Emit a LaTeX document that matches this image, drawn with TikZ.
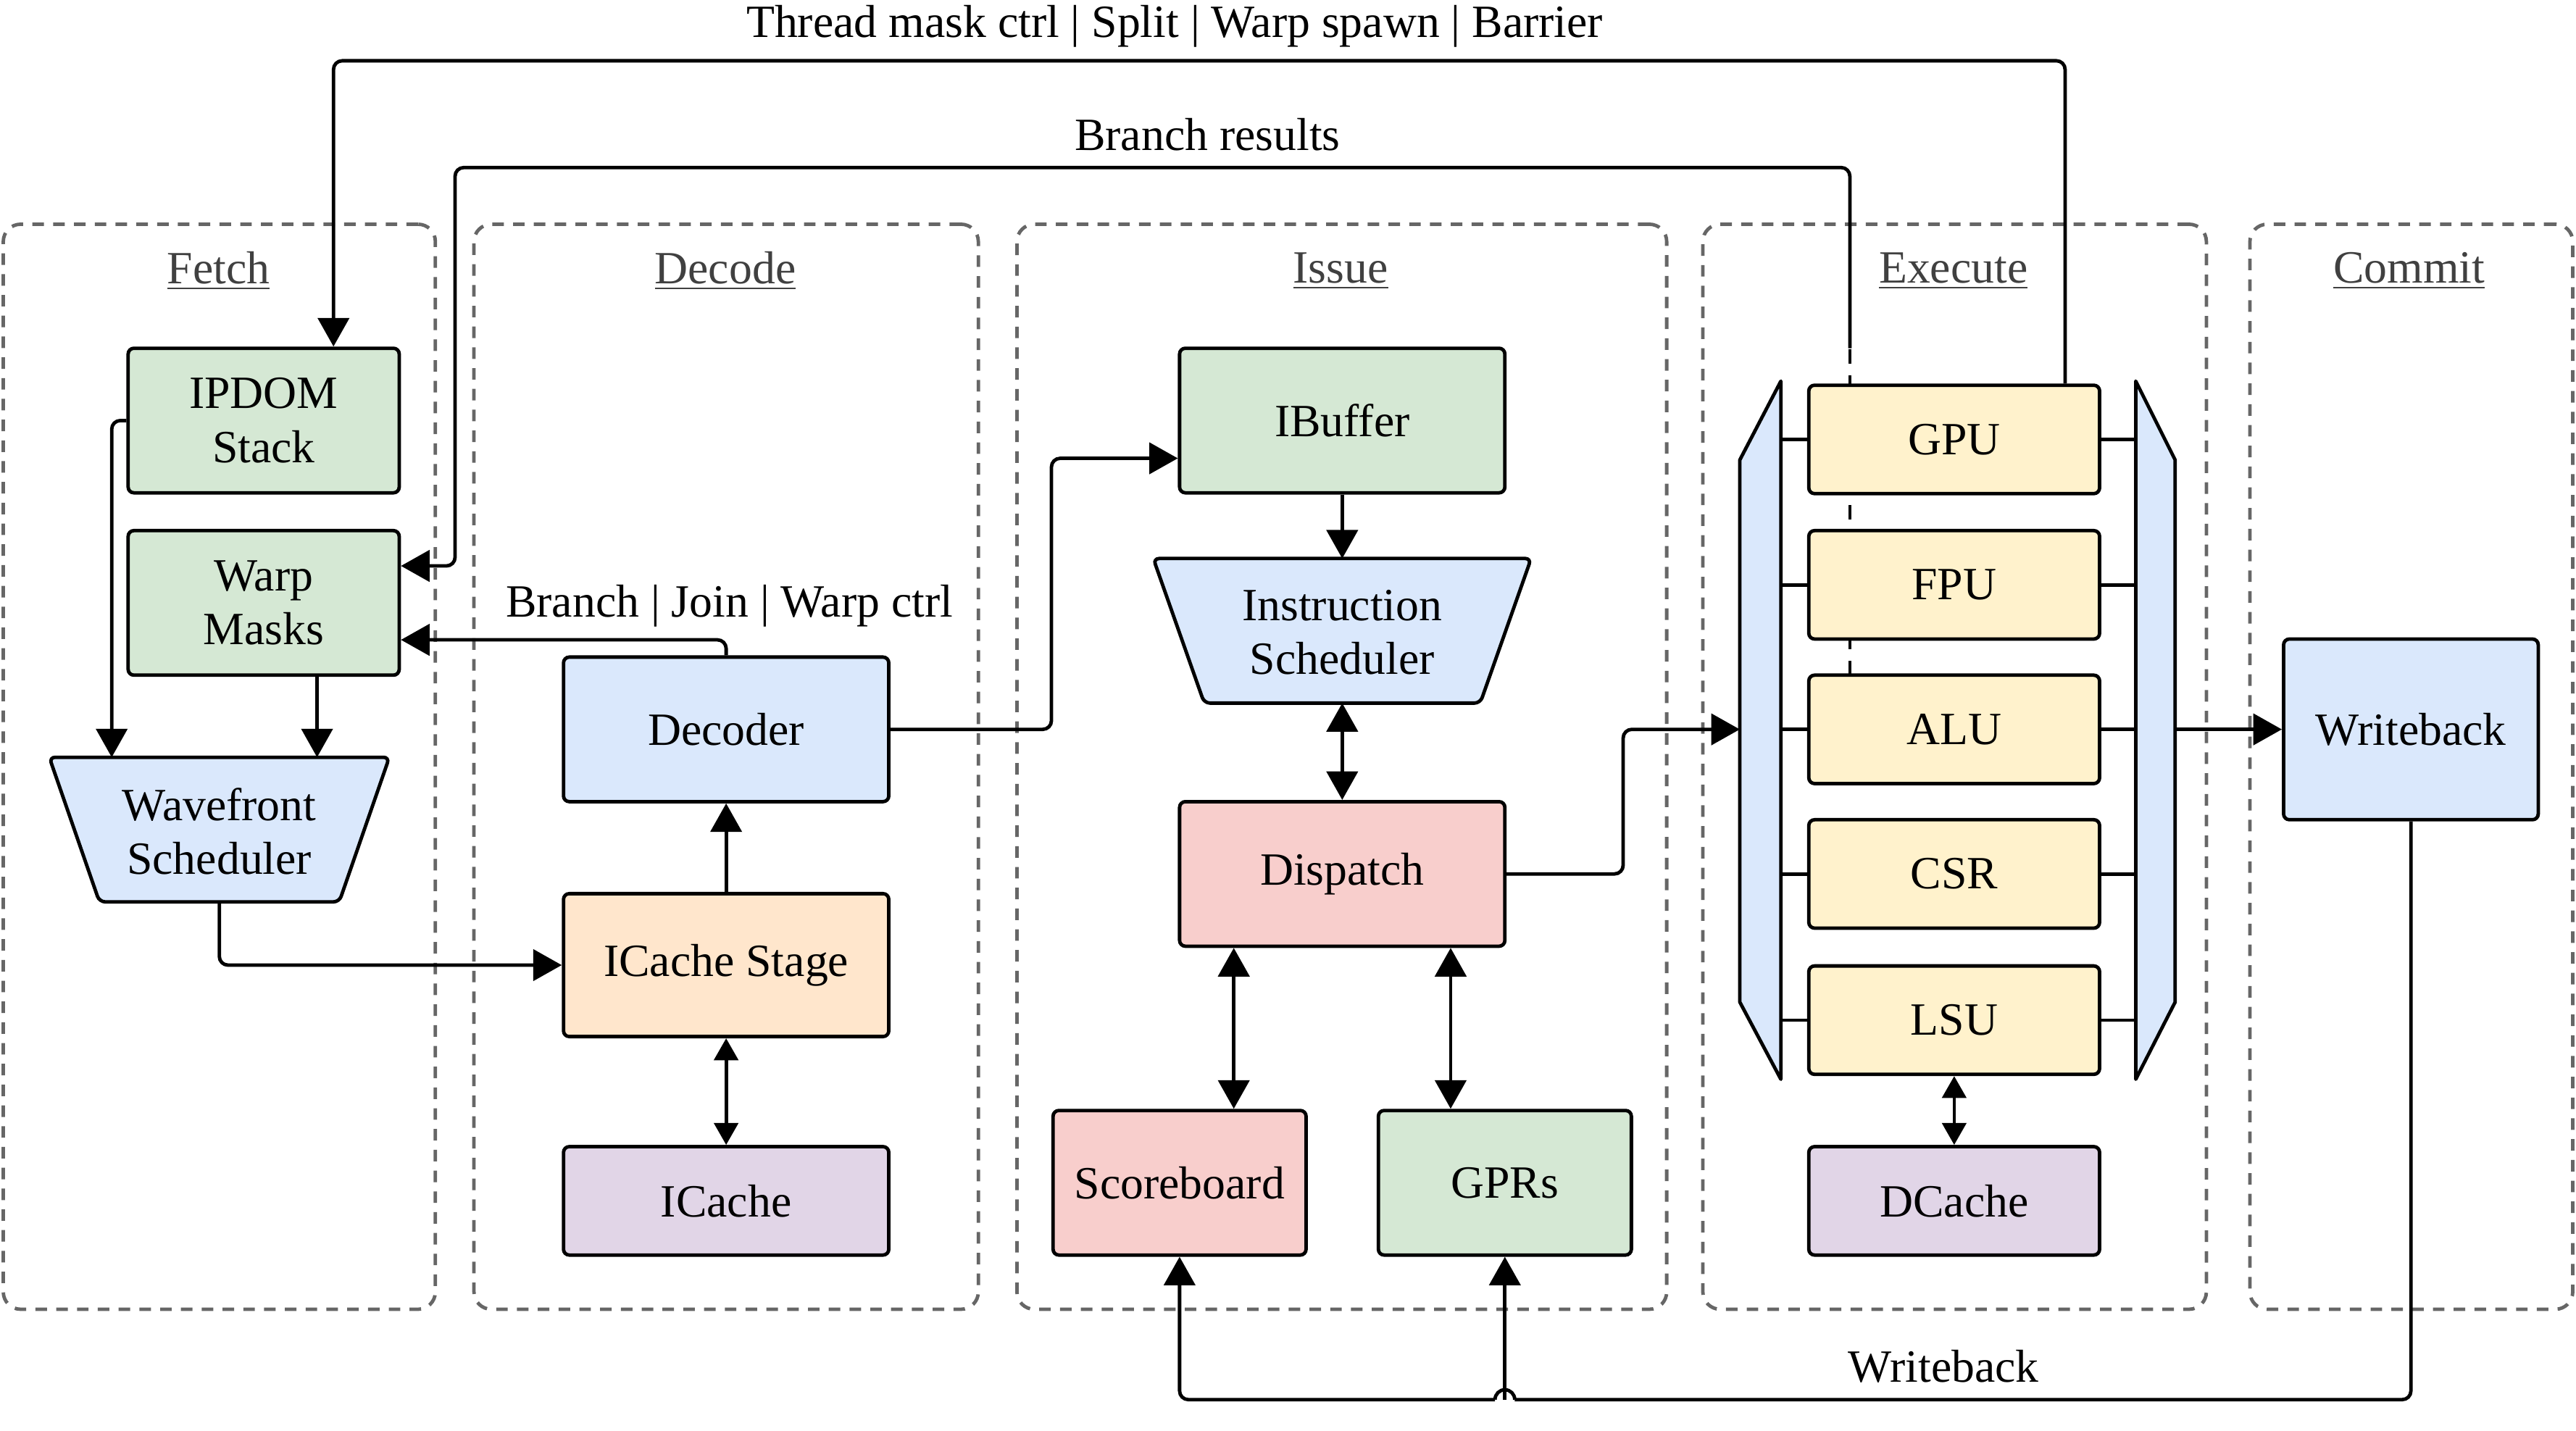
\documentclass[tikz,border=0pt]{standalone}
\usepackage{fontspec}
\setmainfont{Liberation Serif}
\usetikzlibrary{arrows.meta,calc}
\newlength\dpx \setlength\dpx{0.02cm}
\definecolor{cgreen}{HTML}{D5E8D4}
\definecolor{cblue}{HTML}{DAE8FC}
\definecolor{corange}{HTML}{FFE6CC}
\definecolor{cpurple}{HTML}{E1D5E7}
\definecolor{cred}{HTML}{F8CECC}
\definecolor{cyellow}{HTML}{FFF2CC}
\definecolor{ctitle}{HTML}{404040}
\definecolor{cdash}{HTML}{666666}
\begin{document}
\begin{tikzpicture}[x=0.02cm,y=-0.02cm,
  font=\fontsize{16}{18.7}\selectfont,
  box/.style={draw, line width=1.2pt, rounded corners=2pt, inner sep=0pt, align=center},
  stage/.style={draw=cdash, line width=1.2pt, dash pattern=on 4pt off 3.2pt, rounded corners=6pt, inner sep=0pt},
  title/.style={text=ctitle, inner sep=0pt},
  lbl/.style={inner sep=0pt},
  conn/.style={line width=1.2pt, rounded corners=3pt},
  arr/.style={conn, -{Triangle[length=9.9pt,width=10.8pt]}},
  dbl/.style={conn, {Triangle[length=9.9pt,width=10.8pt]}-{Triangle[length=9.9pt,width=10.8pt]}},
  dblsmall/.style={conn, {Triangle[length=7.6pt,width=8.3pt]}-{Triangle[length=7.6pt,width=8.3pt]}},
  muxst/.style={draw, fill=cblue, line width=1.2pt, line join=round},
  link/.style={line width=1.2pt}
]
\useasboundingbox (0,0) rectangle (1568,871);

% stages
\node[stage, minimum width=263\dpx, minimum height=660.5\dpx] (sfetch) at (133.5,466.75) {};
\node[stage, minimum width=307\dpx, minimum height=660.5\dpx] (sdecode) at (442,466.75) {};
\node[stage, minimum width=395.5\dpx, minimum height=660.5\dpx] (sissue) at (816.75,466.75) {};
\node[stage, minimum width=306.5\dpx, minimum height=660.5\dpx] (sexec) at (1189.75,466.75) {};
\node[stage, minimum width=196.5\dpx, minimum height=660.5\dpx] (scommit) at (1467.75,466.75) {};
\node[title] (tfetch) at (133,165) {\underline{Fetch}};
\node[title] (tdecode) at (441.5,165) {\underline{Decode}};
\node[title] (tissue) at (816,165) {\underline{Issue}};
\node[title] (texec) at (1189,165) {\underline{Execute}};
\node[title] (tcommit) at (1466.5,165) {\underline{Commit}};

% dashed part of branch results line (behind units)
\coordinate (brtop) at (1126,212);
\draw[conn, dash pattern=on 5pt off 4pt] (1126,411) -- (brtop);

% muxes
\draw[muxst] (1084,232) -- (1059,280) -- (1059,610) -- (1084,657) -- cycle;
\draw[muxst] (1300,232) -- (1324,280) -- (1324,610) -- (1300,657) -- cycle;
\coordinate (lmuxE) at (1084,0);
\coordinate (rmuxW) at (1300,0);
\coordinate (lmuxin) at (1059,444);
\coordinate (rmuxout) at (1324,444);

% nodes
\node[box, fill=cgreen, minimum width=165\dpx, minimum height=88\dpx] (ipdom) at (160.5,256) {IPDOM\\Stack};
\node[box, fill=cgreen, minimum width=165\dpx, minimum height=88\dpx] (warp) at (160.5,367) {Warp\\Masks};
\draw[box, fill=cblue] (30,461) -- (237,461) -- (206.5,549) -- (60.5,549) -- cycle;
\node[lbl, align=center] (wfs) at (133.5,506) {Wavefront\\Scheduler};
\node[box, fill=cblue, minimum width=198\dpx, minimum height=88\dpx] (decoder) at (442,444) {Decoder};
\node[box, fill=corange, minimum width=198\dpx, minimum height=87\dpx] (icstage) at (442,587.5) {ICache Stage};
\node[box, fill=cpurple, minimum width=198\dpx, minimum height=66\dpx] (icache) at (442,731) {ICache};
\node[box, fill=cgreen, minimum width=198\dpx, minimum height=88\dpx] (ibuffer) at (817,256) {IBuffer};
\draw[box, fill=cblue] (702,340) -- (932,340) -- (901,428) -- (733,428) -- cycle;
\node[lbl, align=center] (isched) at (817,385) {Instruction\\Scheduler};
\node[box, fill=cred, minimum width=198\dpx, minimum height=88\dpx] (dispatch) at (817,532) {Dispatch};
\node[box, fill=cred, minimum width=154\dpx, minimum height=88\dpx] (sb) at (718,720) {Scoreboard};
\node[box, fill=cgreen, minimum width=154\dpx, minimum height=88\dpx] (gprs) at (916,720) {GPRs};
\node[box, fill=cyellow, minimum width=177\dpx, minimum height=66\dpx] (gpu) at (1189.5,267.5) {GPU};
\node[box, fill=cyellow, minimum width=177\dpx, minimum height=66\dpx] (fpu) at (1189.5,356) {FPU};
\node[box, fill=cyellow, minimum width=177\dpx, minimum height=66\dpx] (alu) at (1189.5,444) {ALU};
\node[box, fill=cyellow, minimum width=177\dpx, minimum height=66\dpx] (csr) at (1189.5,532) {CSR};
\node[box, fill=cyellow, minimum width=177\dpx, minimum height=66\dpx] (lsu) at (1189.5,621) {LSU};
\node[box, fill=cpurple, minimum width=177\dpx, minimum height=66\dpx] (dcache) at (1189.5,731) {DCache};
\node[box, fill=cblue, minimum width=155\dpx, minimum height=110\dpx] (wb) at (1467.5,444) {Writeback};

% mux links
\foreach \u in {gpu,fpu,alu,csr,lsu}{
  \draw[link] (\u.west -| lmuxE) -- (\u.west);
  \draw[link] (\u.east) -- (\u.east -| rmuxW);
}

% connectors
\coordinate (tm) at (1257,37);
\draw[arr] (gpu.north -| tm) -- (tm) -| ([xshift=42.5\dpx]ipdom.north);
\node[lbl] (ltm) at (715,16) {Thread mask ctrl | Split | Warp spawn | Barrier};

\coordinate (brc) at (277,102);
\draw[arr] (brtop) |- (brc) |- ([yshift=22.5\dpx]warp.east);
\node[lbl] (lbr) at (735,82) {Branch results};

\draw[arr] (decoder.north) |- ([yshift=-22.5\dpx]warp.east);
\node[lbl] (lbj) at (444,369) {Branch | Join | Warp ctrl};

\coordinate (wfsin1) at (68,461);
\draw[arr] (ipdom.west) -| (wfsin1);
\coordinate (wfsin2) at (193,461);
\draw[arr] (warp.south -| wfsin2) -- (wfsin2);
\coordinate (wfsout) at (133.5,549);
\draw[arr] (wfsout) |- (icstage.west);
\draw[arr] (icstage.north) -- (decoder.south);
\draw[dblsmall] (icstage.south) -- (icache.north);

\coordinate (dib) at (640,444);
\draw[arr] (decoder.east) -- (dib) |- ([yshift=-23\dpx]ibuffer.west);
\coordinate (ischedtop) at (817,340);
\coordinate (ischedbot) at (817,428);
\draw[arr] (ibuffer.south) -- (ischedtop);
\draw[dbl] (ischedbot) -- (dispatch.north);
\draw[dbl] ([xshift=-66\dpx]dispatch.south) -- ([xshift=-66\dpx]dispatch.south |- sb.north);
\draw[dbl] ([xshift=66\dpx]dispatch.south) -- ([xshift=66\dpx]dispatch.south |- gprs.north);

\coordinate (dm) at (988,444);
\draw[arr] (dispatch.east) -| (dm) -- (lmuxin);
\draw[arr] (rmuxout) -- (wb.west);
\draw[dblsmall] (lsu.south) -- (dcache.north);

\coordinate (wbc) at (1467.5,852);
\coordinate (jmpR) at (922,852);
\coordinate (jmpL) at (910,852);
\coordinate (sbc) at (718,852);
\draw[conn] (wb.south) -- (wbc) -- (jmpR);
\draw[line width=1.2pt] (jmpR) arc[start angle=0, end angle=180, radius=6\dpx];
\draw[arr] (jmpL) -- (sbc) -- (sb.south);
\coordinate (gpc) at (916,852);
\draw[arr] (gpc) -- (gprs.south);
\node[lbl] (lwb) at (1183,832) {Writeback};
\end{tikzpicture}
\end{document}
